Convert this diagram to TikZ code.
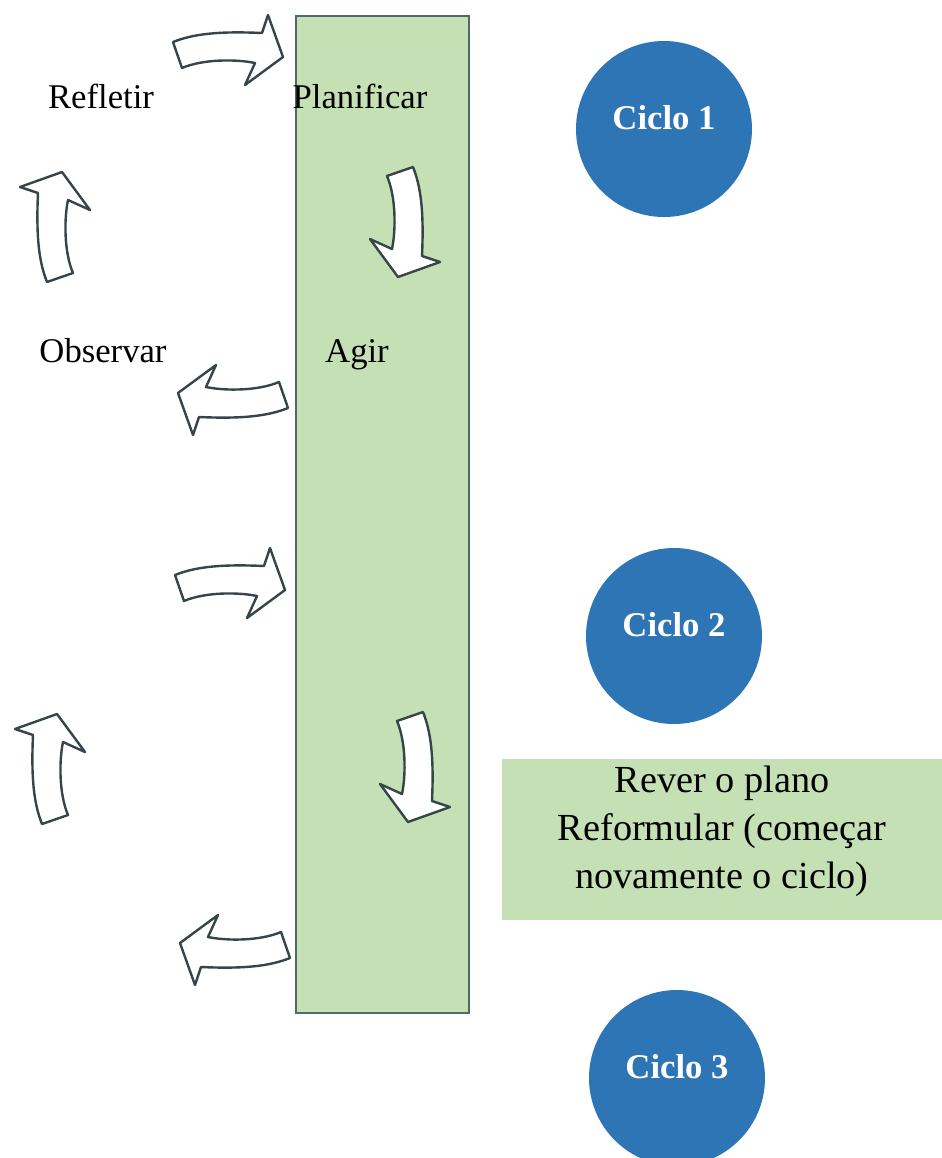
\documentclass[tikz,border=0pt]{standalone}
\usepackage{fontspec}
\setmainfont{Liberation Serif}
\definecolor{boxgreen}{HTML}{C5E0B4}
\definecolor{boxedge}{HTML}{4E6B6B}
\definecolor{cycblue}{HTML}{2E75B6}
\definecolor{arrowedge}{HTML}{36454A}
\begin{document}
\begin{tikzpicture}[x=0.75pt,y=-0.75pt,
  lbl/.style={font=\fontsize{26}{31}\selectfont, anchor=base, inner sep=0pt},
  cyclbl/.style={font=\fontsize{26}{31}\selectfont\bfseries, text=white, anchor=base, inner sep=0pt},
  cycdisc/.style={circle, fill=cycblue, inner sep=0pt, minimum size=132pt},
  arrowline/.style={draw=arrowedge, fill=white, line width=1.8pt, line join=round},
  cyclearrow/.pic={\draw[arrowline] (-55,-8) .. controls (-35,-16) and (-10,-19) .. (34,-17)
      -- (40,-35) -- (55,7) -- (17,35) -- (27,13)
      .. controls (8,9) and (-25,9) .. (-46,18) -- cycle;}
]
\useasboundingbox (0,0) rectangle (942,1158);
% main vertical band
\draw[fill=boxgreen, draw=boxedge, line width=0.9pt] (296,16) rectangle (469,1013);
% review box
\fill[boxgreen] (502,759) rectangle (942,920);
\node[font=\fontsize{28.7}{36}\selectfont, align=center, inner sep=0pt] (rever) at (722,831)
  {Rever o plano\\Reformular (começar\\novamente o ciclo)};
% cycle arrows, first cycle
\path (228,50) pic {cyclearrow};
\path (405,222) pic[rotate=-90] {cyclearrow};
\path (233,400) pic[rotate=180] {cyclearrow};
\path (55,227) pic[rotate=90] {cyclearrow};
% cycle arrows, second cycle
\path (230,583) pic {cyclearrow};
\path (415,767) pic[rotate=-90] {cyclearrow};
\path (235,950) pic[rotate=180] {cyclearrow};
\path (50,769) pic[rotate=90] {cyclearrow};
% labels
\node[lbl] (refletir) at (101,108) {Refletir};
\node[lbl] (planificar) at (360,108) {Planificar};
\node[lbl] (observar) at (103,362) {Observar};
\node[lbl] (agir) at (357,362) {Agir};
% cycles
\node[cycdisc] (c1) at (664,129) {};
\node[cyclbl] (c1t) at (c1.center) {Ciclo 1};
\node[cycdisc] (c2) at (674,636) {};
\node[cyclbl] (c2t) at (c2.center) {Ciclo 2};
\node[cycdisc] (c3) at (677,1078) {};
\node[cyclbl] (c3t) at (c3.center) {Ciclo 3};
\end{tikzpicture}
\end{document}
